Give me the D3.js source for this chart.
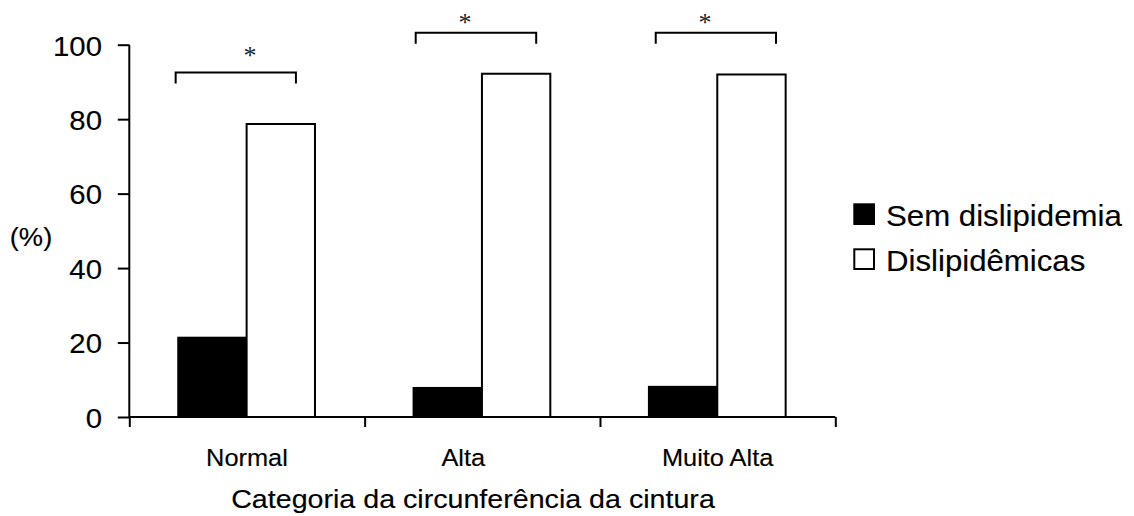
<!DOCTYPE html>
<html>
<head>
<meta charset="utf-8">
<script src="https://cdn.jsdelivr.net/npm/d3@7"></script>
<style>
  html, body { margin: 0; padding: 0; background: #fff; }
  svg { display: block; font-family: "Liberation Sans", Arial, sans-serif; }
</style>
</head>
<body>
<svg id="chart" width="1134" height="516"></svg>
<script>
// ---- data ----
const categories = ["Normal", "Alta", "Muito Alta"];
const seriesNames = ["Sem dislipidemia", "Dislipidêmicas"];
const semDislipidemia = [21.3, 7.8, 8.1];
const dislipidemicas = [78.7, 92.2, 92.0];
const yTicks = [0, 20, 40, 60, 80, 100];
const significance = ["*", "*", "*"];
const bracketLevel = [92.5, 103.2, 103.2];

// ---- layout ----
const W = 1134, H = 516;
const plotLeft = 129.3, plotRight = 835.3, plotTop = 44.7, plotBottom = 417;
const bracketFrac = [[0.197, 0.708], [0.217, 0.729], [0.237, 0.748]];
const starFrac = [0.513, 0.427, 0.446];
const starLift = [20.6, 13.7, 13.7];
const labelShift = [0, -19, 0];

const svg = d3.select("#chart");

const x0 = d3.scaleBand().domain(categories).range([plotLeft, plotRight]).paddingInner(0).paddingOuter(0);
const bw = x0.bandwidth();
const x1 = d3.scaleBand().domain(seriesNames).range([0.208 * bw, 0.789 * bw]).padding(0);
const y = d3.scaleLinear().domain([0, 100]).range([plotBottom, plotTop]);

const fills = { "Sem dislipidemia": "#000", "Dislipidêmicas": "#fff" };
const rows = categories.map((c, i) => ({ cat: c, vals: [
  { s: seriesNames[0], v: semDislipidemia[i] },
  { s: seriesNames[1], v: dislipidemicas[i] }
]}));

function stext(g, x, yy, txt, size, anchor, sx) {
  return g.append("text")
    .attr("transform", `translate(${x},${yy}) scale(${sx},1)`)
    .attr("text-anchor", anchor)
    .attr("font-size", size)
    .attr("fill", "#000")
    .attr("stroke", "#000")
    .attr("stroke-width", 0.15)
    .text(txt);
}

// bars
const groups = svg.append("g").selectAll("g").data(rows).join("g")
  .attr("transform", d => `translate(${x0(d.cat)},0)`);
groups.selectAll("rect").data(d => d.vals).join("rect")
  .attr("x", d => x1(d.s))
  .attr("y", d => y(d.v))
  .attr("width", x1.bandwidth())
  .attr("height", d => y(0) - y(d.v))
  .attr("fill", d => fills[d.s])
  .attr("stroke", "#000")
  .attr("stroke-width", 2);

// y axis
const yAxis = svg.append("g").attr("transform", `translate(${plotLeft},0)`)
  .call(d3.axisLeft(y).tickValues(yTicks).tickSize(11.5).tickSizeOuter(0).tickFormat(""));
yAxis.selectAll("path,line").attr("stroke", "#000").attr("stroke-width", 2);
yAxis.select(".domain").attr("d", `M0,${plotTop}V${plotBottom}`);
yTicks.forEach(t => stext(svg, 102, y(t) + 10.8, d3.format("d")(t), 28.5, "end", 1.03));

// x axis (ticks at band boundaries)
const bounds = categories.map(c => x0(c)).concat([plotRight]);
const xb = d3.scaleLinear().domain([0, 1]).range([0, 1]);
const xAxis = svg.append("g").attr("transform", `translate(0,${plotBottom})`)
  .call(d3.axisBottom(xb).tickValues(bounds).tickSize(10).tickSizeOuter(0).tickFormat(""));
xAxis.selectAll("path,line").attr("stroke", "#000").attr("stroke-width", 2);
xAxis.select(".domain").attr("d", `M${plotLeft},0H${plotRight}`);
categories.forEach((c, i) => stext(svg, x0(c) + bw / 2 + labelShift[i], 466, c, 23.5, "middle", 1.08));

// titles
stext(svg, 473, 508, "Categoria da circunferência da cintura", 26.5, "middle", 1.08);
stext(svg, 31, 245.5, "(%)", 26, "middle", 1.05);

// significance brackets
categories.forEach((c, i) => {
  const xa = x0(c) + bracketFrac[i][0] * bw, xbR = x0(c) + bracketFrac[i][1] * bw;
  const yy = y(bracketLevel[i]);
  svg.append("path")
    .attr("d", `M${xa},${yy + 11}V${yy}H${xbR}V${yy + 11}`)
    .attr("fill", "none").attr("stroke", "#000").attr("stroke-width", 2);
  svg.append("text")
    .attr("x", x0(c) + starFrac[i] * bw).attr("y", yy - starLift[i] + 12)
    .attr("text-anchor", "middle").attr("font-size", 26)
    .attr("font-family", "'Liberation Serif', 'Times New Roman', serif")
    .attr("fill", "#222")
    .text(significance[i]);
});

// legend
const lg = svg.append("g");
seriesNames.forEach((s, i) => {
  const yy = 203.3 + i * 45;
  lg.append("rect").attr("x", 854.3).attr("y", yy + 1).attr("width", 19.7).attr("height", 19.7)
    .attr("fill", fills[s]).attr("stroke", "#000").attr("stroke-width", 2);
  stext(lg, 886, yy + 23, s, 30, "start", 1.04);
});
</script>
</body>
</html>
